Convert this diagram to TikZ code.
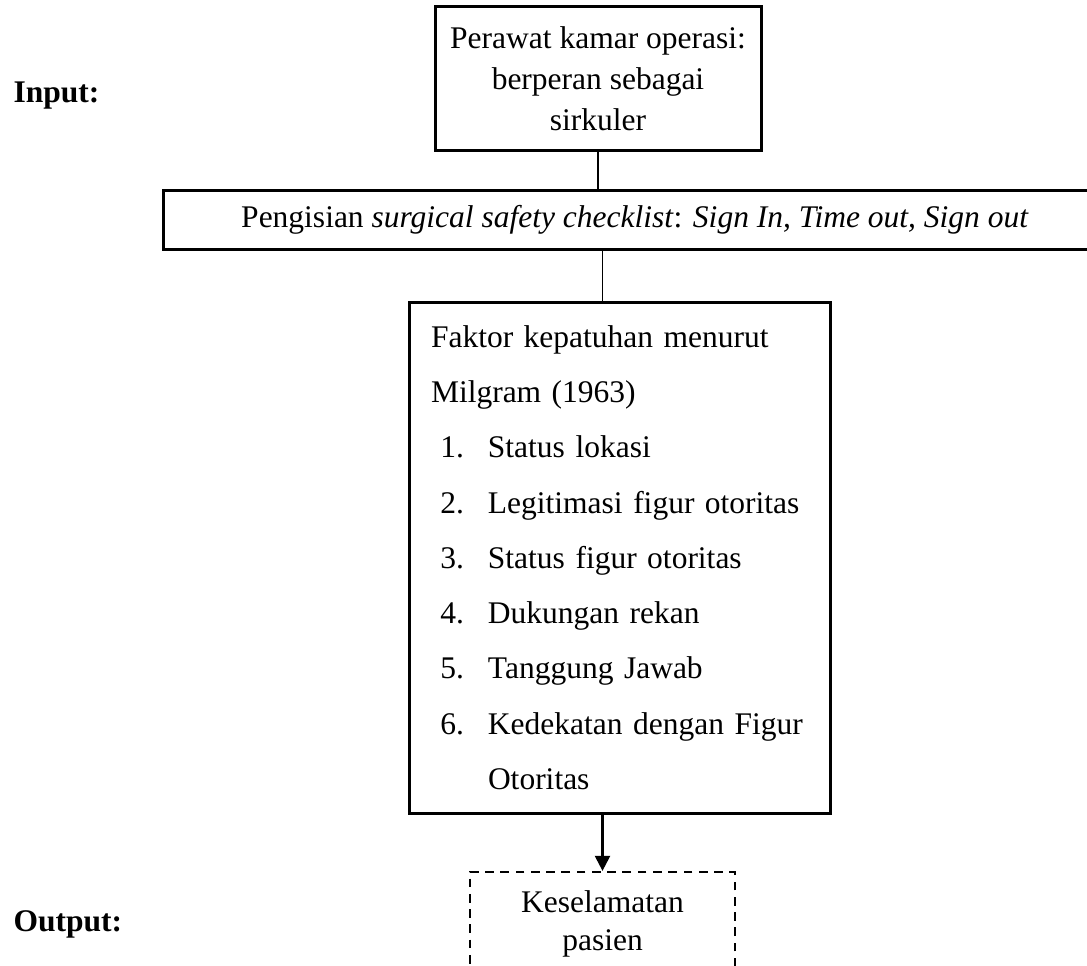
\documentclass[tikz,border=0pt,12pt]{standalone}
\usepackage{fontspec}
\setmainfont{Liberation Serif}
\usetikzlibrary{arrows.meta}

\newdimen\px
\px=0.4pt
\newcommand{\faktornum}[2]{\makebox[33\px][r]{#1.}\hspace{24\px}#2}

\begin{document}
\begin{tikzpicture}[x=\px,y=-\px,
	box/.style={draw,line width=1.2pt,align=center,inner sep=0pt},
	link/.style={line width=0.5pt},
	label/.style={font=\fontsize{12.6pt}{15pt}\selectfont\bfseries,anchor=base west,inner sep=0pt}]
	
	\useasboundingbox (0,0) rectangle (1087,966);
	
	\node[box,minimum width=326\px,minimum height=144\px,font=\fontsize{12.6pt}{16.4pt}\selectfont] (perawat) at (598,79) {Perawat kamar operasi:\\berperan sebagai\\sirkuler};
	\node[box,minimum width=944\px,minimum height=58\px,font=\fontsize{12.6pt}{15pt}\selectfont] (checklist) at (635,220) {Pengisian \textit{surgical safety checklist}: \textit{Sign In, Time out, Sign out}};
	\node[box,align=left,text width=377\px,inner xsep=22\px,minimum height=511\px,font=\fontsize{12.6pt}{22.1pt}\selectfont] (faktor) at (619.5,557.5) {Faktor kepatuhan menurut\\Milgram (1963)\\
		\faktornum{1}{Status lokasi}\\
		\faktornum{2}{Legitimasi figur otoritas}\\
		\faktornum{3}{Status figur otoritas}\\
		\faktornum{4}{Dukungan rekan}\\
		\faktornum{5}{Tanggung Jawab}\\
		\faktornum{6}{Kedekatan dengan Figur}\\
		\hspace*{57\px}Otoritas};
	\node[box,line width=0.9pt,dash pattern=on 3.5pt off 2.6pt,minimum width=265\px,minimum height=104\px,font=\fontsize{12.6pt}{15.2pt}\selectfont] (keselamatan) at (602.5,924) {Keselamatan\\pasien};
	
	\node[label] (input) at (13,103) {Input:};
	\node[label] (output) at (13,931) {Output:};
	
	\draw[link] (perawat.south) -- (perawat.south |- checklist.north);
	\draw[link] (checklist.south -| keselamatan) -- (faktor.north -| keselamatan);
	\draw[line width=0.9pt,-{Triangle[length=6pt,width=6pt]}] (faktor.south -| keselamatan) -- (keselamatan.north);
	
\end{tikzpicture}
\end{document}
